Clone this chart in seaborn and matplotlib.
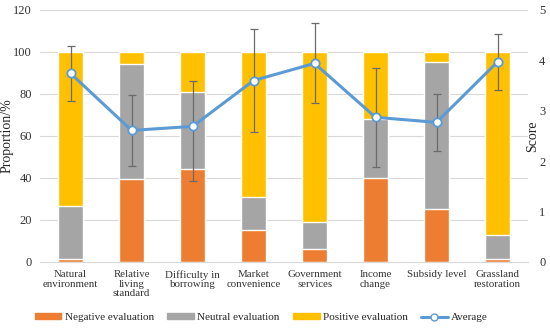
import numpy as np
import pandas as pd
import matplotlib
matplotlib.use("Agg")
import matplotlib.pyplot as plt
import seaborn as sns
from matplotlib.lines import Line2D
from matplotlib.patches import Patch

categories = ["Natural\nenvironment", "Relative\nliving\nstandard", "Difficulty in\nborrowing",
              "Market\nconvenience", "Government\nservices", "Income\nchange",
              "Subsidy level", "Grassland\nrestoration"]
negative = [1.2, 39.5, 44.3, 15.4, 6.2, 39.8, 25.2, 1.2]
neutral = [25.6, 54.9, 36.5, 15.6, 13.0, 28.1, 70.2, 11.8]
positive = [73.2, 5.6, 19.2, 69.0, 80.8, 32.1, 4.6, 87.0]
average = [3.74, 2.61, 2.69, 3.60, 3.94, 2.87, 2.77, 3.97]
err_high = [4.29, 3.32, 3.59, 4.63, 4.74, 3.85, 3.33, 4.52]
err_low = [3.19, 1.90, 1.61, 2.57, 3.15, 1.89, 2.21, 3.42]

c_neg, c_neu, c_pos, c_avg = "#ED7D31", "#A5A5A5", "#FFC000", "#5B9BD5"

sns.set_style("white")
plt.rcParams["font.family"] = ["Liberation Serif", "DejaVu Serif"]

df = pd.DataFrame({"cat": categories, "neg": negative, "neu": neutral, "pos": positive})
df["neu_top"] = df["neg"] + df["neu"]
df["pos_top"] = df["neu_top"] + df["pos"]

fig, ax = plt.subplots(figsize=(5.5, 3.32), dpi=100)
fig.subplots_adjust(left=0.073, right=0.96, top=0.97, bottom=0.211)

# stacked bars drawn as overlapping cumulative bars
sns.barplot(data=df, x="cat", y="pos_top", color=c_pos, width=0.4, saturation=1, ax=ax, zorder=2)
sns.barplot(data=df, x="cat", y="neu_top", color=c_neu, width=0.4, saturation=1, ax=ax, zorder=2)
sns.barplot(data=df, x="cat", y="neg", color=c_neg, width=0.4, saturation=1, ax=ax, zorder=2)

ax.set_ylim(0, 120)
ax.set_yticks(range(0, 121, 20))
ax.set_xlim(-0.5, 7.5)
ax.yaxis.grid(True, color="#D9D9D9", linewidth=0.8, zorder=0)
ax.set_axisbelow(True)
for s in ["top", "left", "right"]:
    ax.spines[s].set_visible(False)
ax.spines["bottom"].set_color("#D9D9D9")
ax.set_xlabel("")
ax.set_ylabel("Proportion/%", fontsize=10)
ax.yaxis.set_label_coords(-0.054, 0.5)
ax.tick_params(axis="x", length=0, labelsize=7.8, colors="#333333", pad=6)
ax.tick_params(axis="y", length=0, labelsize=9, colors="#333333", pad=6)
for lab in ax.get_xticklabels():
    lab.set_linespacing(1.05)

ax2 = ax.twinx()
x = np.arange(len(categories))
avg = np.array(average)
ax2.errorbar(x, avg, yerr=[avg - np.array(err_low), np.array(err_high) - avg],
             fmt="none", ecolor="#6b6b6b", elinewidth=0.9, capsize=3, capthick=0.9, zorder=3)
sns.lineplot(x=x, y=average, ax=ax2, color=c_avg, linewidth=2.2, marker="o", markersize=6,
             markerfacecolor="white", markeredgecolor=c_avg, markeredgewidth=1.3, zorder=4)
ax2.set_ylim(0, 5)
ax2.set_yticks(range(0, 6))
for s in ["top", "left", "right", "bottom"]:
    ax2.spines[s].set_visible(False)
ax2.tick_params(axis="y", length=0, labelsize=9, colors="#333333", pad=8)
ax2.set_ylabel("Score", fontsize=10)
ax2.yaxis.set_label_coords(0.996, 0.5)

handles = [Patch(color=c_neg, label="Negative evaluation"),
           Patch(color=c_neu, label="Neutral evaluation"),
           Patch(color=c_pos, label="Positive evaluation"),
           Line2D([0], [0], color=c_avg, linewidth=2.2, marker="o", markersize=5,
                  markerfacecolor="white", markeredgecolor=c_avg, label="Average")]
fig.legend(handles=handles, loc="lower center", ncol=4, frameon=False, fontsize=8,
           bbox_to_anchor=(0.475, 0.0), handlelength=2.4, handleheight=0.35,
           columnspacing=1.2, handletextpad=0.3)

fig.savefig("out.png", dpi=100)
